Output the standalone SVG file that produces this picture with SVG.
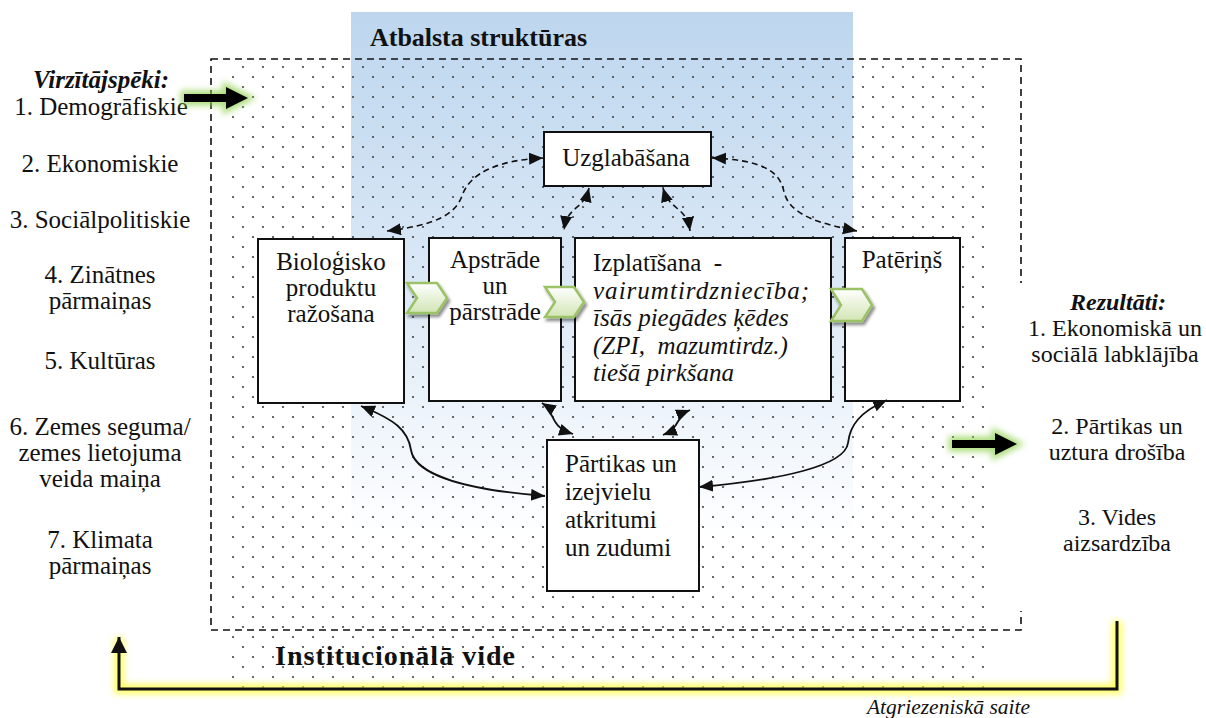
<svg xmlns="http://www.w3.org/2000/svg" width="1206" height="718" viewBox="0 0 1206 718">
  <style>
    .t { font-family: 'Liberation Serif', 'Times New Roman', serif; font-size: 25px; fill: #111; }
    .r { font-size: 24px; }
    .c { text-anchor: middle; }
    .bi { font-weight: bold; font-style: italic; }
    .it { font-style: italic; }
    .title { font-weight: bold; font-size: 26px; }
    .env { font-weight: bold; font-size: 28px; }
    .fb { font-style: italic; font-size: 21.5px; text-anchor: end; }
    .box { fill: #fff; stroke: #111; stroke-width: 2; }
    .dash { fill: none; stroke: #111; stroke-width: 1.6; stroke-dasharray: 6 4; }
    .solid { fill: none; stroke: #111; stroke-width: 1.8; }
    .chev { fill: url(#chevFill); stroke: #9bc266; stroke-width: 2.5; filter: url(#chevShadow); }
  </style>
  <defs>
    <linearGradient id="blueFade" x1="0" y1="0" x2="0" y2="1">
      <stop offset="0" stop-color="#bdd6ee"/>
      <stop offset="0.45" stop-color="#dce9f6"/>
      <stop offset="0.85" stop-color="#ffffff"/>
    </linearGradient>
    <linearGradient id="chevFill" x1="0" y1="0" x2="0" y2="1">
      <stop offset="0" stop-color="#ffffff"/>
      <stop offset="1" stop-color="#d2e5b4"/>
    </linearGradient>
    <pattern id="dots" x="0" y="0" width="20" height="20" patternUnits="userSpaceOnUse">
      <circle cx="13" cy="17" r="1.1" fill="#444"/>
      <circle cx="3" cy="7" r="1.1" fill="#444"/>
    </pattern>
    <filter id="chevShadow" x="-30%" y="-30%" width="170%" height="170%">
      <feGaussianBlur in="SourceAlpha" stdDeviation="1.5"/>
      <feOffset dx="2" dy="3" result="sh"/>
      <feComponentTransfer><feFuncA type="linear" slope="0.45"/></feComponentTransfer>
      <feMerge><feMergeNode/><feMergeNode in="SourceGraphic"/></feMerge>
    </filter>
    <filter id="glow" x="-40%" y="-80%" width="180%" height="260%">
      <feGaussianBlur stdDeviation="3"/>
    </filter>
    <marker id="head" markerUnits="userSpaceOnUse" markerWidth="16" markerHeight="14" refX="14" refY="6" orient="auto-start-reverse">
      <path d="M0,0 L14,6 L0,12 Z" fill="#111"/>
    </marker>
    <marker id="fbHead" markerUnits="userSpaceOnUse" markerWidth="18" markerHeight="18" refX="16" refY="8" orient="auto-start-reverse">
      <path d="M0,0 L16,8 L0,16 Z" fill="#111"/>
    </marker>
  </defs>

  <rect width="1206" height="718" fill="#fff"/>

  <!-- support structures band -->
  <rect id="support-band" x="351" y="12" width="502" height="620" fill="url(#blueFade)"/>

  <!-- institutional environment (dotted field) -->
  <rect id="institutional-field" x="232" y="60" width="760" height="630" fill="url(#dots)"/>

  <!-- system boundary -->
  <rect x="211" y="59" width="810" height="571" fill="none" stroke="#111" stroke-width="1.6" stroke-dasharray="7 5"/>

  <!-- right-hand result panel background -->
  <rect x="1000" y="283" width="206" height="328" fill="#fff"/>

  <g id="labels">
    <text class="t title" x="370" y="46" textLength="217" lengthAdjust="spacing">Atbalsta struktūras</text>
    <text class="t env" x="275" y="665" textLength="240" lengthAdjust="spacing">Institucionālā vide</text>
    <text class="t fb" x="1030" y="714">Atgriezeniskā saite</text>
  </g>

  <!-- drivers -->
  <g id="drivers">
    <text class="t c bi" x="101" y="88">Virzītājspēki:</text>
    <text class="t c" x="101" y="115">1. Demogrāfiskie</text>
    <text class="t c" x="100" y="172">2. Ekonomiskie</text>
    <text class="t c" x="100" y="228">3. Sociālpolitiskie</text>
    <text class="t c" x="100" y="283">4. Zinātnes</text>
    <text class="t c" x="100" y="309">pārmaiņas</text>
    <text class="t c" x="100" y="369">5. Kultūras</text>
    <text class="t c" x="100" y="435">6. Zemes seguma/</text>
    <text class="t c" x="100" y="461">zemes lietojuma</text>
    <text class="t c" x="100" y="487">veida maiņa</text>
    <text class="t c" x="100" y="548">7. Klimata</text>
    <text class="t c" x="100" y="574">pārmaiņas</text>
  </g>

  <!-- results -->
  <g id="results">
    <text class="t r c bi" x="1118" y="310">Rezultāti:</text>
    <text class="t r c" x="1115" y="336">1. Ekonomiskā un</text>
    <text class="t r c" x="1115" y="362">sociālā labklājība</text>
    <text class="t r c" x="1117" y="434">2. Pārtikas un</text>
    <text class="t r c" x="1117" y="460">uztura drošība</text>
    <text class="t r c" x="1117" y="525">3. Vides</text>
    <text class="t r c" x="1117" y="551">aizsardzība</text>
  </g>

  <!-- nodes -->
  <g id="uzglabasana">
    <rect class="box" x="544" y="132" width="167" height="54"/>
    <text class="t c" x="626" y="166">Uzglabāšana</text>
  </g>
  <g id="bio-razosana">
    <rect class="box" x="258" y="239" width="146" height="164"/>
    <text class="t c" x="331" y="270">Bioloģisko</text>
    <text class="t c" x="331" y="296">produktu</text>
    <text class="t c" x="331" y="322">ražošana</text>
  </g>
  <g id="apstrade">
    <rect class="box" x="429" y="238" width="132" height="163"/>
    <text class="t c" x="495" y="268">Apstrāde</text>
    <text class="t c" x="495" y="294">un</text>
    <text class="t c" x="495" y="320">pārstrāde</text>
  </g>
  <g id="izplatisana">
    <rect class="box" x="575" y="238" width="256" height="163"/>
    <text class="t" x="593" y="271" xml:space="preserve">Izplatīšana  -</text>
    <text class="t it" x="593" y="298.5" textLength="216" lengthAdjust="spacing">vairumtirdzniecība;</text>
    <text class="t it" x="593" y="326">īsās piegādes ķēdes</text>
    <text class="t it" x="593" y="353.5" xml:space="preserve">(ZPI,  mazumtirdz.)</text>
    <text class="t it" x="593" y="381">tiešā pirkšana</text>
  </g>
  <g id="paterins">
    <rect class="box" x="845" y="238" width="115" height="163"/>
    <text class="t c" x="902" y="268">Patēriņš</text>
  </g>
  <g id="atkritumi">
    <rect class="box" x="547" y="440" width="152" height="151"/>
    <text class="t" x="565" y="472">Pārtikas un</text>
    <text class="t" x="565" y="500">izejvielu</text>
    <text class="t" x="565" y="528">atkritumi</text>
    <text class="t" x="565" y="556">un zudumi</text>
  </g>

  <!-- flow chevrons -->
  <g id="chevrons">
    <polygon class="chev" points="407,283 437,283 447,298 437,313 407,313 417,298"/>
    <polygon class="chev" points="545,287 574,287 584,302 574,317 545,317 555,302"/>
    <polygon class="chev" points="831,289 862,289 872,305 862,321 831,321 841,305"/>
  </g>

  <!-- connectors -->
  <g id="connectors">
    <path class="dash" d="M387,231 C435,225 455,215 462,196 C470,172 500,160 543,158" marker-start="url(#head)" marker-end="url(#head)"/>
    <path class="dash" d="M712,158 C760,160 780,170 784,192 C790,216 822,224 857,231" marker-start="url(#head)" marker-end="url(#head)"/>
    <path class="dash" d="M589,188 C583,212 568,204 564,230" marker-start="url(#head)" marker-end="url(#head)"/>
    <path class="dash" d="M663,188 C670,212 686,205 690,231" marker-start="url(#head)" marker-end="url(#head)"/>
    <path class="solid" d="M361,406 C395,420 408,430 411,450 C415,476 470,490 545,496" marker-start="url(#head)" marker-end="url(#head)"/>
    <path class="solid" d="M542,403 C556,412 548,426 573,434" marker-start="url(#head)" marker-end="url(#head)"/>
    <path class="solid" d="M690,410 C675,416 681,428 663,435" marker-start="url(#head)" marker-end="url(#head)"/>
    <path class="solid" d="M887,400 C860,412 850,425 848,443 C845,466 780,480 699,487" marker-start="url(#head)" marker-end="url(#head)"/>

    <!-- driver and result arrows -->
    <g id="arrow-in">
      <polygon points="184,94 226,94 226,87 248,98 226,109 226,102 184,102" fill="#8fd14f" stroke="#8fd14f" stroke-width="7" opacity="0.75" filter="url(#glow)"/>
      <polygon points="184,94 226,94 226,87 248,98 226,109 226,102 184,102" fill="#000"/>
    </g>
    <g id="arrow-out">
      <polygon points="952,440 995,440 995,433 1017,444 995,455 995,448 952,448" fill="#8fd14f" stroke="#8fd14f" stroke-width="7" opacity="0.75" filter="url(#glow)"/>
      <polygon points="952,440 995,440 995,433 1017,444 995,455 995,448 952,448" fill="#000"/>
    </g>

    <!-- feedback loop -->
    <g id="feedback">
      <polyline points="1117,621 1117,689 119,689 119,638" fill="none" stroke="#ffff33" stroke-width="10" opacity="0.75" filter="url(#glow)"/>
      <polyline points="1117,621 1117,689 119,689 119,637" fill="none" stroke="#111" stroke-width="3" stroke-linejoin="miter" marker-end="url(#fbHead)"/>
    </g>
  </g>
</svg>
